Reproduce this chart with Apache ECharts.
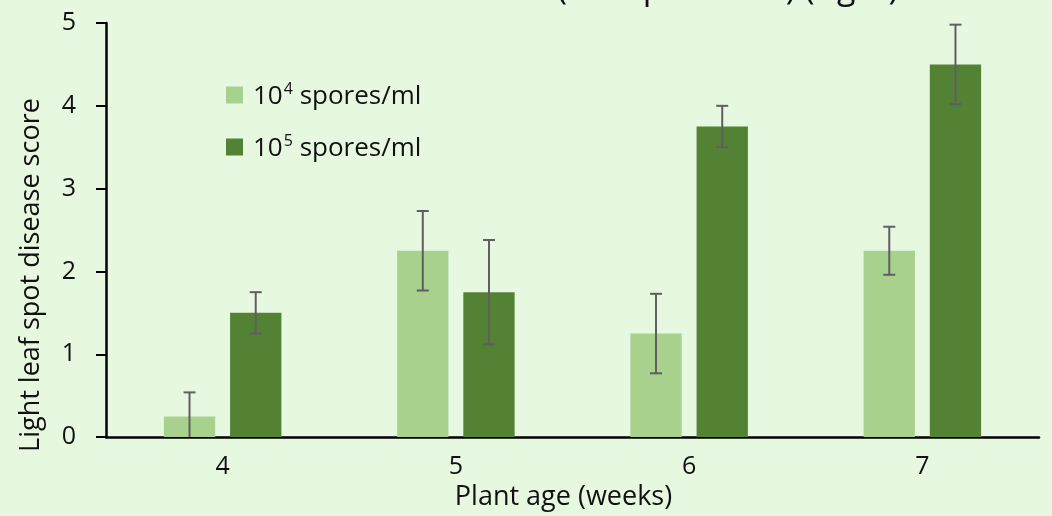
<!DOCTYPE html>
<html>
<head>
<meta charset="utf-8">
<script src="https://cdn.jsdelivr.net/npm/echarts@6/dist/echarts.min.js"></script>
<style>
html,body{margin:0;padding:0;background:#e6f9e0;}
#c{width:1052px;height:516px;}
</style>
</head>
<body>
<div id="c"></div>
<script>
const categories = ['4', '5', '6', '7'];
const seriesNames = ['10\u2074 spores/ml', '10\u2075 spores/ml'];
const seriesExponents = ['4', '5'];
const lowDose = [0.25, 2.25, 1.25, 2.25];
const highDose = [1.5, 1.75, 3.75, 4.5];
const lowDoseErr = [0.29, 0.48, 0.48, 0.29];
const highDoseErr = [0.25, 0.63, 0.25, 0.48];
const yTicks = [0, 1, 2, 3, 4, 5];

const FONT = '"Open Sans", Lato, sans-serif';
const FS = 25;
const NFS = 27;
const TXT = '#111111';
const BAR_W = 0.22, BAR_GAP = 0.29;

function errData(vals, errs) {
  return vals.map((v, i) => [i, v, Math.max(0, v - errs[i]), v + errs[i]]);
}

function makeErrSeries(vals, errs, sign) {
  return {
    type: 'custom',
    data: errData(vals, errs),
    encode: { x: 0, y: [1, 2, 3] },
    z: 10,
    silent: true,
    renderItem: function (params, api) {
      const idx = api.value(0);
      const band = api.size([1, 0])[0];
      const bw = band * BAR_W;
      const off = sign * (bw + bw * BAR_GAP) / 2;
      const top = api.coord([idx, api.value(3)]);
      const bot = api.coord([idx, api.value(2)]);
      const x = top[0] + off;
      const cap = 6;
      const st = { stroke: '#5f5f5f', lineWidth: 2 };
      const children = [
        { type: 'line', shape: { x1: x, y1: top[1], x2: x, y2: bot[1] }, style: st },
        { type: 'line', shape: { x1: x - cap, y1: top[1], x2: x + cap, y2: top[1] }, style: st }
      ];
      if (api.value(2) > 0) {
        children.push({ type: 'line', shape: { x1: x - cap, y1: bot[1], x2: x + cap, y2: bot[1] }, style: st });
      }
      return { type: 'group', children: children };
    }
  };
}

const chart = echarts.init(document.getElementById('c'));
chart.setOption({
  backgroundColor: '#e6f9e0',
  animation: false,
  textStyle: { fontFamily: FONT },
  grid: { left: 106, right: 13, top: 23, bottom: 74, containLabel: false },
  graphic: [{
    type: 'text',
    x: 557,
    y: 6,
    silent: true,
    style: {
      text: '(10\u2075 spores/ml) (right)',
      font: '34px ' + FONT,
      fill: TXT,
      verticalAlign: 'bottom'
    }
  }],
  legend: {
    orient: 'vertical',
    left: 226,
    top: 80,
    padding: 0,
    itemWidth: 17,
    itemHeight: 17,
    itemGap: 22,
    icon: 'rect',
    data: seriesNames,
    formatter: function (name) {
      const i = seriesNames.indexOf(name);
      return '{b|10}{sup|' + seriesExponents[i] + '}{b| spores/ml}';
    },
    textStyle: {
      fontFamily: FONT, fontSize: 26, color: TXT, padding: [0, 0, 0, 5],
      rich: {
        b: { fontFamily: FONT, fontSize: 26, color: TXT, lineHeight: 30, verticalAlign: 'bottom' },
        sup: { fontFamily: FONT, fontSize: 16, color: TXT, lineHeight: 16, verticalAlign: 'top', padding: [1, 0, 0, 1] }
      }
    }
  },
  xAxis: {
    type: 'category',
    data: categories,
    name: 'Plant age (weeks)',
    nameLocation: 'middle',
    nameGap: 41,
    nameTextStyle: { fontFamily: FONT, fontSize: NFS, color: TXT, padding: [0, 18, 0, 0] },
    axisLine: { lineStyle: { color: '#000', width: 2.5 } },
    axisTick: { show: false },
    axisLabel: { fontFamily: FONT, fontSize: FS, color: TXT, margin: 17 },
    splitLine: { show: false }
  },
  yAxis: {
    type: 'value',
    min: 0,
    max: 5,
    interval: 1,
    name: 'Light leaf spot disease score',
    nameLocation: 'middle',
    nameGap: 61,
    nameTextStyle: { fontFamily: FONT, fontSize: NFS, color: TXT, padding: [0, 90, 0, 0] },
    axisLine: { show: true, lineStyle: { color: '#000', width: 2.5 } },
    axisTick: { show: true, length: 10, lineStyle: { color: '#000', width: 2 } },
    axisLabel: {
      fontFamily: FONT, fontSize: FS, color: TXT, margin: 30,
      formatter: function (v) { return yTicks.indexOf(v) >= 0 ? String(v) : ''; }
    },
    splitLine: { show: false }
  },
  series: [
    {
      name: seriesNames[0],
      type: 'bar',
      data: lowDose,
      barWidth: (BAR_W * 100) + '%',
      barGap: (BAR_GAP * 100) + '%',
      itemStyle: { color: '#a9d18e' }
    },
    {
      name: seriesNames[1],
      type: 'bar',
      data: highDose,
      barWidth: (BAR_W * 100) + '%',
      barGap: (BAR_GAP * 100) + '%',
      itemStyle: { color: '#548235' }
    },
    makeErrSeries(lowDose, lowDoseErr, -1),
    makeErrSeries(highDose, highDoseErr, 1)
  ]
});
</script>
</body>
</html>
